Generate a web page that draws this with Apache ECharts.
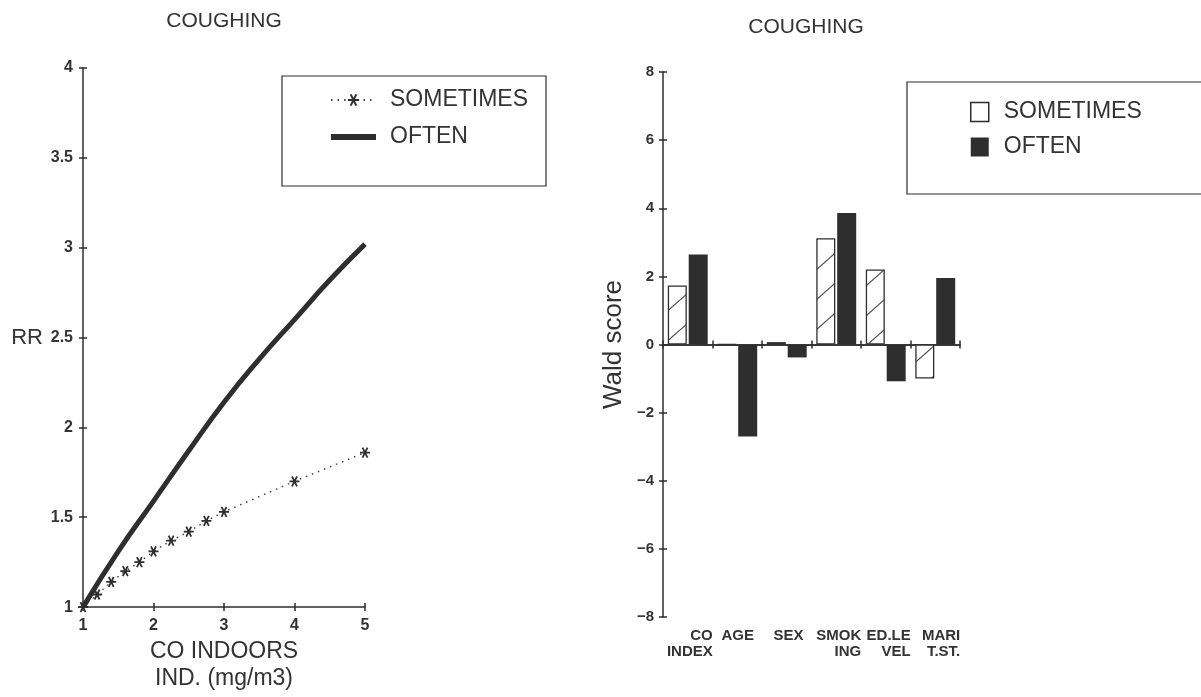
<!DOCTYPE html>
<html>
<head>
<meta charset="utf-8">
<script src="https://cdn.jsdelivr.net/npm/echarts@6/dist/echarts.min.js"></script>
<style>
  html, body { margin: 0; padding: 0; background: #fff; }
  #chart { width: 1201px; height: 697px; }
</style>
</head>
<body>
<div id="chart"></div>
<script>
// Relative risk of coughing against the indoor CO index
const coLevels    = [1, 1.2, 1.4, 1.6, 1.8, 2, 2.25, 2.5, 2.75, 3, 4, 5];
const rrSometimes = [1.00, 1.07, 1.14, 1.20, 1.25, 1.31, 1.37, 1.42, 1.48, 1.53, 1.70, 1.86];
const coCurve     = [1, 1.5, 2, 2.5, 3, 3.5, 4, 4.5, 5];
const rrOften     = [1.00, 1.31, 1.59, 1.87, 2.14, 2.38, 2.60, 2.82, 3.02];

// Wald scores of the model covariates
const covariates    = ['CO\nINDEX', 'AGE', 'SEX', 'SMOK\nING', 'ED.LE\nVEL', 'MARI\nT.ST.'];
const waldSometimes = [1.73, 0, 0.07, 3.12, 2.20, -1.00];
const waldOften     = [2.64, -2.70, -0.38, 3.86, -1.08, 1.95];

const titleText = 'COUGHING';
const seriesNames = ['SOMETIMES', 'OFTEN'];
const waldNames = ['Sometimes (Wald)', 'Often (Wald)'];

const FONT = '"Liberation Sans", Arial, sans-serif';
const INK = '#2e2e2e';

// diagonal hatch fill for the open bars
function hatchPattern() {
  const w = 34, h = 30;
  const c = document.createElement('canvas');
  c.width = w; c.height = h;
  const g = c.getContext('2d');
  g.fillStyle = '#fff';
  g.fillRect(0, 0, w, h);
  g.strokeStyle = '#555';
  g.lineWidth = 1.3;
  for (const k of [-1, 0, 1]) {
    g.beginPath();
    g.moveTo(0, h + k * h);
    g.lineTo(w, k * h);
    g.stroke();
  }
  return c;
}

const asterisk = 'path://M0,5L10,5M2.5,0.7L7.5,9.3M2.5,9.3L7.5,0.7';

const axisLine = { show: true, lineStyle: { color: INK, width: 1.5 } };
const tickOut = { show: true, length: 4, inside: false, lineStyle: { color: INK, width: 1.5 } };
const tickIn  = { show: true, length: 4, inside: true,  lineStyle: { color: INK, width: 1.5 } };
const numLabel = { fontFamily: FONT, fontSize: 16, fontWeight: 'bold', color: '#333' };

const chart = echarts.init(document.getElementById('chart'), null, { renderer: 'canvas' });

chart.setOption({
  backgroundColor: '#fff',
  animation: false,
  graphic: [
    { type: 'text', x: 224, y: 21,
      style: { text: titleText, fontFamily: FONT, fontSize: 21, fill: '#333', align: 'center', verticalAlign: 'middle' } },
    { type: 'text', x: 806, y: 27,
      style: { text: titleText, fontFamily: FONT, fontSize: 21, fill: '#333', align: 'center', verticalAlign: 'middle' } }
  ],
  grid: [
    { left: 83, top: 68, width: 282, height: 546 },
    { left: 663, top: 72, width: 297, height: 545 }
  ],
  legend: [
    {
      orient: 'vertical', left: 282, top: 76,
      padding: [12, 18, 37, 46],
      borderColor: INK, borderWidth: 1.2,
      itemWidth: 45, itemHeight: 14, itemGap: 13,
      selectedMode: false,
      textStyle: { fontFamily: FONT, fontSize: 23, color: '#333', lineHeight: 24, padding: [0, 0, 0, 9] },
      data: [
        { name: seriesNames[0] },
        { name: seriesNames[1], lineStyle: { width: 6 }, itemStyle: { opacity: 0 } }
      ]
    },
    {
      orient: 'vertical', left: 907, top: 82,
      padding: [18, 80, 35, 63],
      borderColor: INK, borderWidth: 1.2,
      itemWidth: 18, itemHeight: 19, itemGap: 11,
      selectedMode: false,
      textStyle: { fontFamily: FONT, fontSize: 23, color: '#333', lineHeight: 24, padding: [0, 0, 0, 10] },
      formatter: n => seriesNames[waldNames.indexOf(n)],
      data: [
        { name: waldNames[0], icon: 'rect', itemStyle: { color: '#fff', borderColor: INK, borderWidth: 1.5 } },
        { name: waldNames[1], icon: 'rect', itemStyle: { color: INK } }
      ]
    }
  ],
  xAxis: [
    { gridIndex: 0, type: 'value', position: 'bottom', min: 1, max: 5, interval: 1,
      axisLine, axisTick: tickOut, splitLine: { show: false },
      axisLabel: Object.assign({ margin: 10 }, numLabel),
      name: 'CO INDOORS\nIND. (mg/m3)', nameLocation: 'middle', nameGap: 30,
      nameTextStyle: { fontFamily: FONT, fontSize: 23, lineHeight: 27, color: '#333' } },
    { gridIndex: 0, type: 'value', position: 'bottom', min: 1, max: 5, interval: 1,
      axisLine: { show: false }, axisTick: tickIn, axisLabel: { show: false }, splitLine: { show: false } },
    { gridIndex: 1, type: 'category', position: 'bottom', data: covariates,
      axisLine: { show: true, onZero: true, onZeroAxisIndex: 2, lineStyle: { color: INK, width: 1.5 } },
      axisTick: tickOut, axisLabel: { show: false }, splitLine: { show: false } },
    { gridIndex: 1, type: 'category', position: 'bottom', data: covariates,
      axisLine: { show: true, onZero: true, onZeroAxisIndex: 2, lineStyle: { color: INK, width: 1.5 } },
      axisTick: tickIn, axisLabel: { show: false }, splitLine: { show: false } },
    { gridIndex: 1, type: 'category', position: 'bottom', data: covariates,
      axisLine: { show: false, onZero: false }, axisTick: { show: false }, splitLine: { show: false },
      axisLabel: {
        margin: 11, interval: 0, align: 'center',
        formatter: v => v.split('\n').map(s => '{r|' + s + (v.indexOf('\n') < 0 ? '\u00a0\u00a0' : '') + '}').join('\n'),
        rich: { r: { width: 50, align: 'right', fontFamily: FONT, fontSize: 15, fontWeight: 'bold', color: '#333', lineHeight: 16 } }
      } }
  ],
  yAxis: [
    { gridIndex: 0, type: 'value', position: 'left', min: 1, max: 4, interval: 0.5,
      axisLine, axisTick: tickOut, splitLine: { show: false },
      axisLabel: Object.assign({ margin: 10 }, numLabel),
      name: 'RR', nameLocation: 'middle', nameRotate: 0, nameGap: 40,
      nameTextStyle: { fontFamily: FONT, fontSize: 22, color: '#333' } },
    { gridIndex: 0, type: 'value', position: 'left', min: 1, max: 4, interval: 0.5,
      axisLine: { show: false }, axisTick: tickIn, axisLabel: { show: false }, splitLine: { show: false } },
    { gridIndex: 1, type: 'value', position: 'left', min: -8, max: 8, interval: 2,
      axisLine, axisTick: tickOut, splitLine: { show: false },
      axisLabel: Object.assign({ margin: 9, formatter: v => String(v).replace('-', '\u2212') }, numLabel, { fontSize: 15 }),
      name: 'Wald score', nameLocation: 'middle', nameGap: 36,
      nameTextStyle: { fontFamily: FONT, fontSize: 26, color: '#333' } },
    { gridIndex: 1, type: 'value', position: 'left', min: -8, max: 8, interval: 2,
      axisLine: { show: false }, axisTick: tickIn, axisLabel: { show: false }, splitLine: { show: false } }
  ],
  series: [
    { name: seriesNames[0], type: 'line', xAxisIndex: 0, yAxisIndex: 0,
      data: coLevels.map((x, i) => [x, rrSometimes[i]]),
      symbol: asterisk, symbolSize: 10, showSymbol: true,
      lineStyle: { color: '#444', width: 1.5, type: [1.5, 5] },
      itemStyle: { color: INK, borderColor: INK, borderWidth: 1.8 } },
    { name: seriesNames[1], type: 'line', xAxisIndex: 0, yAxisIndex: 0,
      data: coCurve.map((x, i) => [x, rrOften[i]]),
      symbol: 'none', smooth: 0.5,
      lineStyle: { color: INK, width: 5 },
      itemStyle: { color: INK } },
    { name: waldNames[0], type: 'bar', xAxisIndex: 2, yAxisIndex: 2,
      data: waldSometimes, barWidth: 19, barGap: '10%',
      itemStyle: { color: { image: hatchPattern(), repeat: 'repeat' }, borderColor: INK, borderWidth: 1.3 } },
    { name: waldNames[1], type: 'bar', xAxisIndex: 2, yAxisIndex: 2,
      data: waldOften, barWidth: 19, barGap: '10%',
      itemStyle: { color: INK } }
  ]
});
</script>
</body>
</html>
